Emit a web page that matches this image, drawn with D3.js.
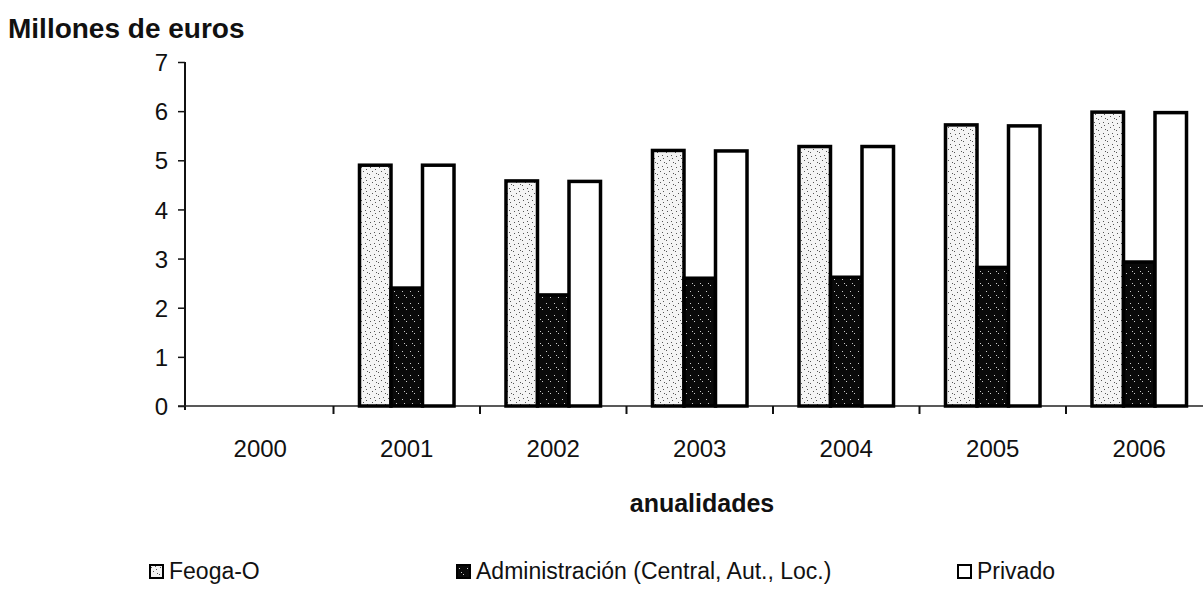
<!DOCTYPE html>
<html>
<head>
<meta charset="utf-8">
<script src="https://cdn.jsdelivr.net/npm/d3@7"></script>
<style>
  body { margin: 0; background: #fff; }
  #chart { width: 1203px; height: 589px; }
  text { font-family: "Liberation Sans", Arial, sans-serif; fill: #111; }
</style>
</head>
<body>
<div id="chart"></div>
<script>
// Data (millones de euros)
const years = ['2000', '2001', '2002', '2003', '2004', '2005', '2006'];
const seriesNames = ['Feoga-O', 'Administración (Central, Aut., Loc.)', 'Privado'];
const feoga = [0, 4.9, 4.58, 5.2, 5.28, 5.72, 5.98];
const administracion = [0, 2.4, 2.26, 2.6, 2.62, 2.82, 2.93];
const privado = [0, 4.9, 4.57, 5.19, 5.28, 5.7, 5.97];
const yTicks = [0, 1, 2, 3, 4, 5, 6, 7];

const seriesValues = [feoga, administracion, privado];
const fills = ['url(#dots-light)', 'url(#dots-dark)', '#fff'];

const svg = d3.select('#chart').append('svg')
  .attr('width', 1203)
  .attr('height', 589);

// stipple patterns to mimic the print screens
const defs = svg.append('defs');
const light = defs.append('pattern')
  .attr('id', 'dots-light')
  .attr('patternUnits', 'userSpaceOnUse')
  .attr('width', 9).attr('height', 11);
light.append('rect').attr('width', 9).attr('height', 11).attr('fill', '#f4f4f4');
[[1, 2], [5, 1], [3, 6], [7, 8], [0, 9], [6, 4]].forEach(([cx, cy]) => {
  light.append('rect').attr('x', cx).attr('y', cy).attr('width', 1).attr('height', 1).attr('fill', '#555');
});
const dark = defs.append('pattern')
  .attr('id', 'dots-dark')
  .attr('patternUnits', 'userSpaceOnUse')
  .attr('width', 8).attr('height', 12);
dark.append('rect').attr('width', 8).attr('height', 12).attr('fill', '#0a0a0a');
[[2, 3], [6, 9], [4, 7]].forEach(([cx, cy]) => {
  dark.append('rect').attr('x', cx).attr('y', cy).attr('width', 1).attr('height', 1).attr('fill', '#ccc');
});

// scales
const y = d3.scaleLinear().domain([0, 7]).range([406, 62]);
const x0 = d3.scaleBand().domain(years).range([187, 187 + 7 * 146.5]).padding(0);
const x1 = d3.scaleBand().domain(d3.range(3)).range([0, x0.bandwidth()])
  .paddingInner(0).paddingOuter(0.825);

// y axis
const yAxis = svg.append('g')
  .attr('transform', 'translate(185,0)')
  .call(d3.axisLeft(y).tickValues(yTicks).tickFormat(d3.format('d'))
    .tickSize(7).tickSizeOuter(0).tickPadding(10));
yAxis.select('.domain').attr('stroke', '#111').attr('stroke-width', 2).attr('d', 'M0,62V410');
yAxis.selectAll('.tick line').attr('stroke', '#111').attr('stroke-width', 1.5);
yAxis.selectAll('.tick text').style('font-size', '24px').attr('dy', '0.36em');

// x axis: baseline plus boundary ticks between years
svg.append('line')
  .attr('x1', 178).attr('x2', 1203)
  .attr('y1', y(0)).attr('y2', y(0))
  .attr('stroke', '#222').attr('stroke-width', 1.5);
svg.selectAll('.xtick')
  .data(years.slice(1))
  .enter().append('line')
  .attr('x1', d => x0(d)).attr('x2', d => x0(d))
  .attr('y1', y(0)).attr('y2', y(0) + 8)
  .attr('stroke', '#111').attr('stroke-width', 2);
svg.selectAll('.xlabel')
  .data(years)
  .enter().append('text')
  .attr('x', d => x0(d) + x0.bandwidth() / 2)
  .attr('y', 457)
  .attr('text-anchor', 'middle')
  .style('font-size', '24px')
  .text(d => d);

// bars
years.forEach((yr, i) => {
  seriesValues.forEach((vals, s) => {
    if (!vals[i]) return;
    svg.append('rect')
      .attr('x', x0(yr) + x1(s))
      .attr('y', y(vals[i]))
      .attr('width', x1.bandwidth())
      .attr('height', y(0) - y(vals[i]))
      .attr('fill', fills[s])
      .attr('stroke', '#000')
      .attr('stroke-width', 3.5);
  });
});

// titles
svg.append('text')
  .attr('x', 8).attr('y', 38)
  .style('font-size', '28px').style('font-weight', 'bold')
  .text('Millones de euros');
svg.append('text')
  .attr('x', 702).attr('y', 512)
  .attr('text-anchor', 'middle')
  .style('font-size', '25px').style('font-weight', 'bold')
  .text('anualidades');

// legend
const legendX = [150, 457, 958];
seriesNames.forEach((name, s) => {
  const g = svg.append('g').attr('transform', `translate(${legendX[s]},565)`);
  g.append('rect')
    .attr('width', 13).attr('height', 13)
    .attr('fill', fills[s])
    .attr('stroke', '#000').attr('stroke-width', 2);
  g.append('text')
    .attr('x', 19).attr('y', 14)
    .style('font-size', '23px')
    .text(name);
});
</script>
</body>
</html>
